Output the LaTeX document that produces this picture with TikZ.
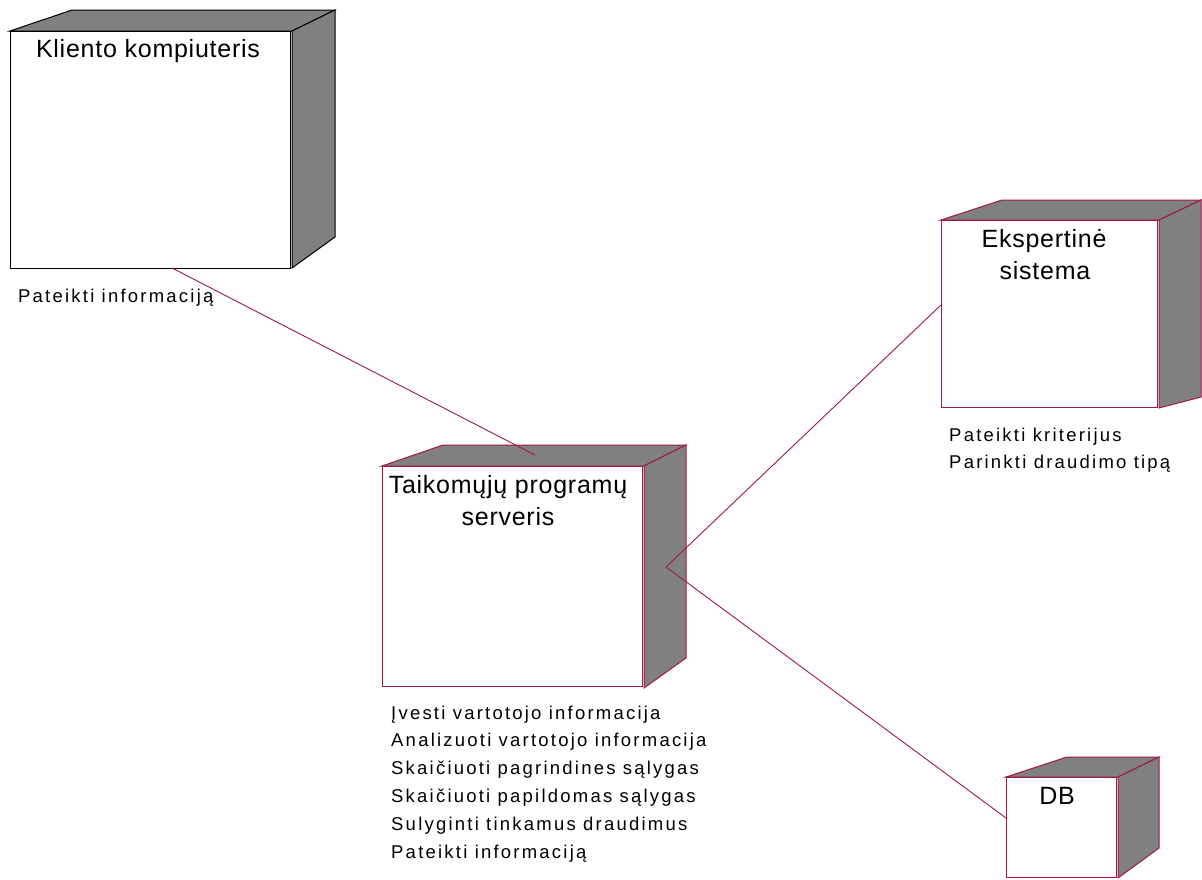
\documentclass[tikz,border=0pt]{standalone}
\usepackage{fontspec}
\setmainfont{Liberation Sans}
\definecolor{edge}{HTML}{A0174D}
\definecolor{face}{HTML}{808080}

\tikzset{
  front/.style={draw=#1, line width=1pt, fill=white, inner sep=0pt, anchor=north west},
  side/.style={draw=#1, line width=1pt, fill=face},
  link/.style={draw=edge, line width=0.9pt},
  title/.style={font=\fontsize{25}{32}\selectfont\addfontfeature{LetterSpace=3}, anchor=base, inner sep=0pt},
  oplabel/.style={font=\fontsize{18.5}{27}\selectfont\addfontfeature{LetterSpace=12}, anchor=base west, inner sep=0pt},
}

\begin{document}
\begin{tikzpicture}[x=1pt,y=-1pt]
\useasboundingbox[fill=white] (0,0) rectangle (1202,879);

% --- Kliento kompiuteris (black outline) ---
\path[side=black] (10,31) -- (72,10) -- (335,10) -- (292,31) -- cycle;
\path[side=black] (292,31) -- (335,10) -- (335,237) -- (292,268) -- cycle;
\node[front=black, minimum width=280pt, minimum height=237pt] (client) at (10,31) {};
\node[title] (clientname) at (148,57) {Kliento kompiuteris};
\node[oplabel] (clientop) at (18,302) {Pateikti informaciją};

% --- Taikomųjų programų serveris ---
\path[side=edge] (382,466) -- (443,445) -- (686,445) -- (644,466) -- cycle;
\path[side=edge] (644,466) -- (686,445) -- (686,658) -- (644,688) -- cycle;
\node[front=edge, minimum width=260pt, minimum height=220pt] (server) at (382,466) {};
\node[title] (servername1) at (508,493) {Taikomųjų programų};
\node[title] (servername2) at (508,525) {serveris};
\foreach \t [count=\i] in {Įvesti vartotojo informacija,
                          Analizuoti vartotojo informacija,
                          Skaičiuoti pagrindines sąlygas,
                          Skaičiuoti papildomas sąlygas,
                          Sulyginti tinkamus draudimus,
                          Pateikti informaciją}
  \node[oplabel] (serverop\i) at (391,{719+27.9*(\i-1)}) {\t};

% --- Ekspertinė sistema ---
\path[side=edge] (941,220) -- (1002,200) -- (1201,200) -- (1159,220) -- cycle;
\path[side=edge] (1159,220) -- (1201,200) -- (1201,397) -- (1159,408) -- cycle;
\node[front=edge, minimum width=216pt, minimum height=187pt] (expert) at (941,220) {};
\node[title] (expertname1) at (1044,247) {Ekspertinė};
\node[title] (expertname2) at (1045,279) {sistema};
\node[oplabel] (expertop1) at (949,441) {Pateikti kriterijus};
\node[oplabel] (expertop2) at (949,468) {Parinkti draudimo tipą};

% --- DB ---
\path[side=edge] (1006,777) -- (1067,757) -- (1159,757) -- (1118,777) -- cycle;
\path[side=edge] (1118,777) -- (1159,757) -- (1159,848) -- (1118,878) -- cycle;
\node[front=edge, minimum width=110pt, minimum height=100pt] (db) at (1006,777) {};
\node[title] (dbname) at (1057,804) {DB};

% --- connection points ---
\coordinate (clientport) at (172,268);
\coordinate (servertop) at (535,455);
\coordinate (serverport) at (666,567);
\coordinate (expertport) at (941,305);
\coordinate (dbport) at (1006,818);

% --- connections ---
\draw[link] (clientport) -- (servertop);
\draw[link] (serverport) -- (expertport);
\draw[link] (serverport) -- (dbport);
\end{tikzpicture}
\end{document}
